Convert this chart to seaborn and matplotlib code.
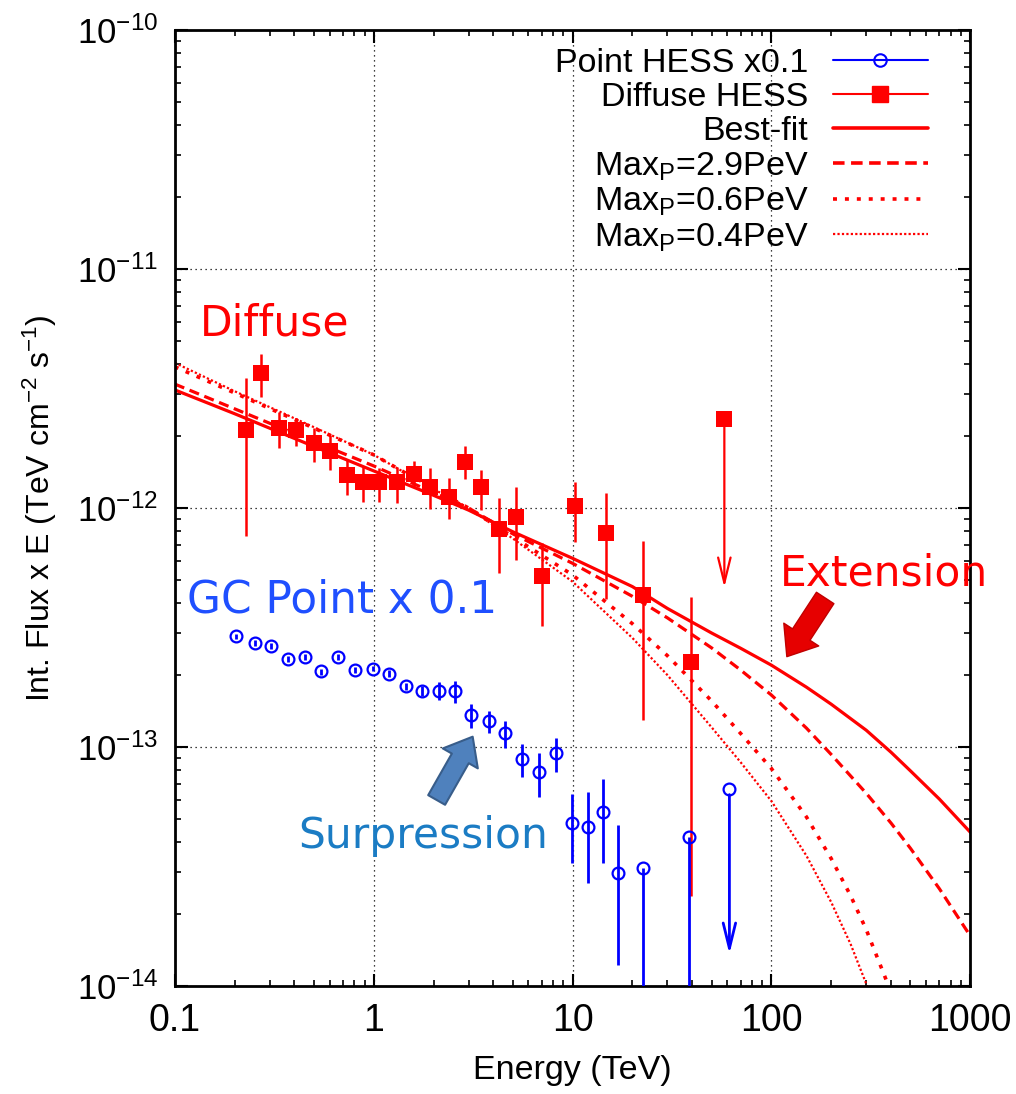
import numpy as np
import pandas as pd
import matplotlib
matplotlib.use("Agg")
import matplotlib.pyplot as plt
import seaborn as sns
from matplotlib.lines import Line2D
from matplotlib.ticker import FixedLocator, FixedFormatter, LogLocator, NullFormatter

# ---------------- data ----------------
diff_E = [0.229, 0.273, 0.333, 0.406, 0.50, 0.60, 0.738, 0.884, 1.06, 1.31, 1.59,
          1.93, 2.38, 2.87, 3.45, 4.25, 5.17, 7.04, 10.35, 14.8, 22.7, 39.2]
diff_F = [2.12e-12, 3.67e-12, 2.17e-12, 2.13e-12, 1.87e-12, 1.74e-12, 1.37e-12, 1.29e-12,
          1.28e-12, 1.28e-12, 1.39e-12, 1.23e-12, 1.11e-12, 1.56e-12, 1.22e-12, 8.17e-13,
          9.2e-13, 5.21e-13, 1.02e-12, 7.84e-13, 4.31e-13, 2.26e-13]
diff_hi = [3.5e-12, 4.4e-12, 2.53e-12, 2.38e-12, 2.16e-12, 2.02e-12, 1.59e-12, 1.49e-12,
           1.47e-12, 1.49e-12, 1.57e-12, 1.47e-12, 1.34e-12, 1.82e-12, 1.44e-12, 1.10e-12,
           1.23e-12, 7.13e-13, 1.29e-12, 1.15e-12, 7.26e-13, 4.26e-13]
diff_lo = [7.6e-13, 2.91e-12, 1.78e-12, 1.82e-12, 1.56e-12, 1.44e-12, 1.13e-12, 1.06e-12,
           1.06e-12, 1.05e-12, 1.23e-12, 0.99e-12, 0.90e-12, 1.32e-12, 0.98e-12, 5.33e-13,
           6.06e-13, 3.21e-13, 7.2e-13, 4.15e-13, 1.30e-13, 2.39e-14]
diff_ul_E = [58.0]
diff_ul_F = [2.35e-12]
diff_ul_to = [4.65e-13]

point_E = [0.204, 0.254, 0.303, 0.37, 0.452, 0.546, 0.665, 0.803, 0.99, 1.19, 1.46, 1.75,
           2.13, 2.56, 3.1, 3.81, 4.59, 5.59, 6.75, 8.22, 9.93, 11.9, 14.2, 16.9, 22.7, 38.3]
point_F = [2.90e-13, 2.72e-13, 2.65e-13, 2.33e-13, 2.39e-13, 2.07e-13, 2.39e-13, 2.10e-13,
           2.13e-13, 2.03e-13, 1.80e-13, 1.72e-13, 1.72e-13, 1.71e-13, 1.36e-13, 1.28e-13,
           1.14e-13, 8.93e-14, 7.83e-14, 9.42e-14, 4.82e-14, 4.62e-14, 5.33e-14, 2.96e-14,
           3.12e-14, 4.2e-14]
point_hi = [2.98e-13, 2.80e-13, 2.73e-13, 2.40e-13, 2.46e-13, 2.13e-13, 2.46e-13, 2.16e-13,
            2.19e-13, 2.09e-13, 1.86e-13, 1.80e-13, 1.87e-13, 1.89e-13, 1.51e-13, 1.41e-13,
            1.29e-13, 1.03e-13, 9.42e-14, 1.09e-13, 6.34e-14, 6.5e-14, 7.35e-14, 4.7e-14,
            3.12e-14, 4.2e-14]
point_lo = [2.82e-13, 2.64e-13, 2.57e-13, 2.26e-13, 2.32e-13, 2.01e-13, 2.32e-13, 2.04e-13,
            2.07e-13, 1.97e-13, 1.74e-13, 1.64e-13, 1.57e-13, 1.53e-13, 1.20e-13, 1.15e-13,
            9.93e-14, 7.52e-14, 6.19e-14, 7.89e-14, 3.26e-14, 2.70e-14, 3.26e-14, 1.23e-14,
            1.0e-15, 1.0e-15]
point_ul_E = [61.5]
point_ul_F = [6.67e-14]
point_ul_to = [1.36e-14]

fit_E = [0.1, 0.2, 0.5, 1, 2, 3, 5, 10, 20, 30, 50, 70, 100, 150, 200, 300, 400, 500, 700, 1000]
best_fit = [3.12e-12, 2.48e-12, 1.81e-12, 1.43e-12, 1.13e-12, 9.8e-13, 7.96e-13, 6.16e-13,
            4.69e-13, 3.8e-13, 3.0e-13, 2.59e-13, 2.2e-13, 1.78e-13, 1.51e-13, 1.175e-13,
            9.5e-14, 7.95e-14, 6.05e-14, 4.4e-14]
max29 = [3.3e-12, 2.6e-12, 1.9e-12, 1.5e-12, 1.16e-12, 1.0e-12, 7.8e-13, 5.87e-13,
         4.27e-13, 3.47e-13, 2.6e-13, 2.1e-13, 1.65e-13, 1.2e-13, 9.3e-14, 6.4e-14,
         4.8e-14, 3.77e-14, 2.55e-14, 1.62e-14]
max06_E = [0.1, 0.2, 0.5, 1, 2, 3, 5, 10, 20, 30, 50, 70, 100, 150, 200, 250, 300, 383, 400]
max06 = [3.9e-12, 3.03e-12, 2.16e-12, 1.67e-12, 1.2e-12, 1.0e-12, 7.58e-13, 5.25e-13,
         3.28e-13, 2.41e-13, 1.56e-13, 1.14e-13, 8.13e-14, 5.1e-14, 3.41e-14, 2.39e-14,
         1.72e-14, 1.03e-14, 0.94e-14]
max04_E = [0.1, 0.2, 0.5, 1, 2, 3, 5, 10, 20, 30, 50, 70, 100, 150, 200, 250, 300, 320]
max04 = [4.05e-12, 3.08e-12, 2.18e-12, 1.67e-12, 1.2e-12, 1.0e-12, 7.46e-13, 4.92e-13,
         2.86e-13, 2.0e-13, 1.21e-13, 8.64e-14, 5.94e-14, 3.51e-14, 2.24e-14, 1.5e-14,
         1.02e-14, 0.88e-14]

y_ticks = [1e-14, 1e-13, 1e-12, 1e-11, 1e-10]
y_tick_labels = [r"$10^{-14}$", r"$10^{-13}$", r"$10^{-12}$", r"$10^{-11}$", r"$10^{-10}$"]
x_ticks = [0.1, 1, 10, 100, 1000]
x_tick_labels = ["0.1", "1", "10", "100", "1000"]

# ---------------- style ----------------
sns.set_theme(style="ticks")
plt.rcParams["font.family"] = ["Liberation Sans", "DejaVu Sans"]
plt.rcParams["mathtext.default"] = "regular"
for k in ["text.color", "axes.labelcolor", "xtick.color", "ytick.color", "axes.edgecolor"]:
    plt.rcParams[k] = "black"

RED = "#ff0000"
BLUE = "#0000ff"

fig = plt.figure(figsize=(10.16, 10.94), dpi=100)
ax = fig.add_axes([0.172, 0.0987, 0.955 - 0.172, 0.9726 - 0.0987])
ax.set_xscale("log")
ax.set_yscale("log")

# curves
curves = [
    (fit_E, best_fit, "-", 2.3),
    (fit_E, max29, (0, (3.2, 1.8)), 2.3),
    (max06_E, max06, (0, (1.1, 2.2)), 2.6),
    (max04_E, max04, (0, (1.0, 1.0)), 1.6),
]
for xs, ys, ls, lw in curves:
    df = pd.DataFrame({"E": xs, "F": ys})
    sns.lineplot(data=df, x="E", y="F", ax=ax, color=RED, linestyle=ls, linewidth=lw,
                 estimator=None, sort=False, errorbar=None, legend=False)

# diffuse points
dF = np.array(diff_F)
ax.errorbar(diff_E, dF, yerr=[dF - np.array(diff_lo), np.array(diff_hi) - dF], fmt="none",
            ecolor=RED, elinewidth=1.8, capsize=0, zorder=3)
sns.scatterplot(x=diff_E + diff_ul_E, y=diff_F + diff_ul_F, ax=ax, marker="s", s=135,
                color=RED, edgecolor=RED, linewidth=0, zorder=4, legend=False)
for e, f, t in zip(diff_ul_E, diff_ul_F, diff_ul_to):
    ax.annotate("", xy=(e, t), xytext=(e, f), xycoords="data",
                arrowprops=dict(arrowstyle="->,head_length=1.3,head_width=0.32", color=RED,
                                lw=1.6, mutation_scale=14, shrinkA=0, shrinkB=0))

# point (GC) points
pF = np.array(point_F)
ax.errorbar(point_E, pF, yerr=[pF - np.array(point_lo), np.array(point_hi) - pF], fmt="none",
            ecolor=BLUE, elinewidth=2.0, capsize=0, zorder=3)
ax.plot(point_E + point_ul_E, point_F + point_ul_F, linestyle="none", marker="o", ms=8.5,
        mfc="none", mec=BLUE, mew=1.6, zorder=4)
for e, f, t in zip(point_ul_E, point_ul_F, point_ul_to):
    ax.annotate("", xy=(e, t), xytext=(e, f), xycoords="data",
                arrowprops=dict(arrowstyle="->,head_length=1.3,head_width=0.32", color=BLUE,
                                lw=2.0, mutation_scale=14, shrinkA=4, shrinkB=0))

# axes
ax.set_xlim(0.1, 1000)
ax.set_ylim(1e-14, 1e-10)
ax.xaxis.set_major_locator(FixedLocator(x_ticks))
ax.xaxis.set_major_formatter(FixedFormatter(x_tick_labels))
ax.yaxis.set_major_locator(FixedLocator(y_ticks))
ax.yaxis.set_major_formatter(FixedFormatter(y_tick_labels))
ax.xaxis.set_minor_locator(LogLocator(base=10, subs=np.arange(2, 10), numticks=20))
ax.yaxis.set_minor_locator(LogLocator(base=10, subs=np.arange(2, 10), numticks=20))
ax.xaxis.set_minor_formatter(NullFormatter())
ax.yaxis.set_minor_formatter(NullFormatter())
ax.tick_params(which="both", direction="in", top=True, right=True, color="black")
ax.tick_params(which="major", length=9, width=1.5)
ax.tick_params(which="minor", length=4.5, width=1.2)
ax.tick_params(axis="x", which="major", labelsize=27, pad=12)
ax.tick_params(axis="y", which="major", labelsize=25, pad=12)
for s in ax.spines.values():
    s.set_linewidth(2.0)
    s.set_color("black")
ax.grid(which="major", color="black", linestyle=(0, (1, 3)), linewidth=0.9)

ax.set_xlabel("Energy (TeV)", fontsize=24.5)
ax.set_ylabel(r"Int. Flux x E (TeV cm$^{-2}$ s$^{-1}$)", fontsize=23)
ax.xaxis.set_label_coords(0.5, -0.072)
ax.yaxis.set_label_coords(-0.145, 0.5)

# legend
handles = [
    Line2D([], [], color=BLUE, lw=1.5, marker="o", ms=9, mfc="none", mec=BLUE, mew=1.5),
    Line2D([], [], color=RED, lw=1.5, marker="s", ms=12, mfc=RED, mec=RED),
    Line2D([], [], color=RED, lw=2.6, linestyle="-"),
    Line2D([], [], color=RED, lw=2.6, linestyle=(0, (3.2, 1.8))),
    Line2D([], [], color=RED, lw=2.6, linestyle=(0, (1.1, 2.2))),
    Line2D([], [], color=RED, lw=1.6, linestyle=(0, (1.0, 1.0))),
]
labels = ["Point HESS x0.1", "Diffuse HESS", "Best-fit",
          r"Max$_{P}$=2.9PeV", r"Max$_{P}$=0.6PeV", r"Max$_{P}$=0.4PeV"]
ax.legend(handles, labels, loc="upper right", bbox_to_anchor=(0.947, 0.981), frameon=False,
          markerfirst=False, fontsize=24.5, handlelength=2.8, handletextpad=0.72,
          labelspacing=0.09, borderpad=0, borderaxespad=0, numpoints=1)

# annotations
ax.text(0.031, 0.680, "Diffuse", transform=ax.transAxes, color=RED, fontsize=30.5,
        family="DejaVu Sans", ha="left", va="baseline")
ax.text(0.015, 0.391, "GC Point x 0.1", transform=ax.transAxes, color="#1f4fff",
        fontsize=31.5, family="DejaVu Sans", ha="left", va="baseline")
ax.text(0.761, 0.419, "Extension", transform=ax.transAxes, color=RED, fontsize=30.5,
        family="DejaVu Sans", ha="left", va="baseline", clip_on=False)
ax.text(0.155, 0.1444, "Surpression", transform=ax.transAxes, color="#1b7cc4",
        fontsize=30.5, family="DejaVu Sans", ha="left", va="baseline")

ax.annotate("", xy=(0.3745, 0.2608), xytext=(0.3292, 0.1946), xycoords="axes fraction",
            arrowprops=dict(arrowstyle="simple,head_length=0.9,head_width=1.45,tail_width=0.7",
                            fc="#4f81bd", ec="#385d8a", lw=1.5, mutation_scale=20,
                            shrinkA=0, shrinkB=0))
ax.annotate("", xy=(0.7694, 0.3445), xytext=(0.8176, 0.4059), xycoords="axes fraction",
            arrowprops=dict(arrowstyle="simple,head_length=0.95,head_width=1.5,tail_width=0.75",
                            fc="#e60000", ec="#c00000", lw=1.0, mutation_scale=20,
                            shrinkA=0, shrinkB=0))

fig.savefig("out.png", dpi=100)
